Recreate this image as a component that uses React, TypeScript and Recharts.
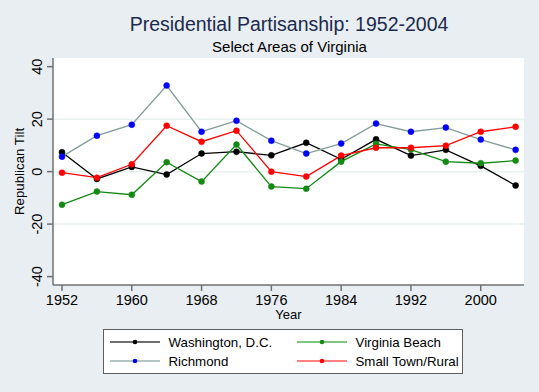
import { LineChart, Line, XAxis, YAxis, CartesianGrid, ReferenceLine } from 'recharts'

const BG = '#e8eef1'
const NAVY = '#1b2a4c'
const AXIS = '#707070'

const years = [1952, 1956, 1960, 1964, 1968, 1972, 1976, 1980, 1984, 1988, 1992, 1996, 2000, 2004]
const washington = [7.4, -2.8, 1.8, -1.1, 6.9, 7.6, 6.2, 11.0, 4.7, 12.3, 6.1, 8.3, 2.2, -5.3]
const richmond = [5.7, 13.7, 17.9, 32.8, 15.2, 19.4, 11.8, 6.9, 10.7, 18.3, 15.2, 16.8, 12.2, 8.3]
const virginiaBeach = [-12.6, -7.6, -8.8, 3.6, -3.8, 10.3, -5.7, -6.5, 3.8, 10.6, 8.4, 3.8, 3.2, 4.2]
const smallTown = [-0.4, -2.3, 2.8, 17.5, 11.4, 15.6, 0, -1.9, 6.1, 9.1, 9.1, 9.9, 15.2, 17.1]

const xTicks = [1952, 1960, 1968, 1976, 1984, 1992, 2000]
const yTicks = [-40, -20, 0, 20, 40]
const gridValues = [-20, 0, 20]

const series = [
  { key: 'dc', name: 'Washington, D.C.', values: washington, line: '#000000', dot: '#000000', legendLine: '#6f6f6f' },
  { key: 'rich', name: 'Richmond', values: richmond, line: '#7f9d99', dot: '#0000ff', legendLine: '#b4c6c3' },
  { key: 'vb', name: 'Virginia Beach', values: virginiaBeach, line: '#138a13', dot: '#138a13', legendLine: '#7fc47f' },
  { key: 'st', name: 'Small Town/Rural', values: smallTown, line: '#ff0000', dot: '#ff0000', legendLine: '#ff8080' },
]

const data = years.map((year, i) => {
  const row: Record<string, number> = { year }
  series.forEach((s) => { row[s.key] = s.values[i] })
  return row
})

const FONT = '"Liberation Sans", Arial, Helvetica, sans-serif'

function YTick({ x, y, payload }: any) {
  return (
    <text
      x={x - 3}
      y={y}
      transform={`rotate(-90, ${x - 3}, ${y})`}
      textAnchor="middle"
      fontSize={14.5}
      fill="#000"
      fontFamily={FONT}
    >
      {payload.value}
    </text>
  )
}

// legend reads across: DC, Virginia Beach / Richmond, Small Town
const legendOrder = ['dc', 'vb', 'rich', 'st']

export default function App() {
  return (
    <div style={{ position: 'fixed', left: 0, top: 0, width: 539, height: 392, background: BG, fontFamily: FONT }}>
      <svg width={539} height={60} style={{ position: 'absolute', left: 0, top: 0 }}>
        <text x={289} y={30.7} textAnchor="middle" fontSize={19.5} fill={NAVY} fontFamily={FONT}>
          Presidential Partisanship: 1952-2004
        </text>
        <text x={289.5} y={51.7} textAnchor="middle" fontSize={15} fill="#000" fontFamily={FONT}>
          Select Areas of Virginia
        </text>
      </svg>

      <LineChart
        width={539}
        height={392}
        data={data}
        margin={{ top: 58, right: 15, bottom: 77, left: 13 }}
        style={{ position: 'absolute', left: 0, top: 0 }}
      >
        <CartesianGrid fill="#ffffff" stroke="none" horizontal={false} vertical={false} />
        {gridValues.map((v) => (
          <ReferenceLine key={v} y={v} stroke="#e9f0f0" strokeWidth={1.5} />
        ))}
        <XAxis
          dataKey="year"
          type="number"
          domain={[1950.97, 2004.96]}
          allowDataOverflow
          ticks={xTicks}
          height={30}
          tickSize={6}
          tickMargin={4}
          stroke={AXIS}
          strokeWidth={1.5}
          tick={{ fontSize: 14.5, fill: '#000', fontFamily: FONT }}
          label={{
            content: ({ viewBox }: any) => (
              <text
                x={viewBox.x + viewBox.width / 2}
                y={319}
                textAnchor="middle"
                fontSize={13}
                fill="#000"
                fontFamily={FONT}
              >
                Year
              </text>
            ),
          }}
        />
        <YAxis
          type="number"
          domain={[-43.2, 43.3]}
          allowDataOverflow
          ticks={yTicks}
          width={40}
          tickSize={6}
          tickMargin={2}
          stroke={AXIS}
          strokeWidth={1.5}
          tick={<YTick />}
          label={{
            content: ({ viewBox }: any) => {
              const cy = viewBox.y + viewBox.height / 2
              return (
                <text
                  x={24}
                  y={cy}
                  transform={`rotate(-90, 24, ${cy})`}
                  textAnchor="middle"
                  fontSize={13.3}
                  fill="#000"
                  fontFamily={FONT}
                >
                  Republican Tilt
                </text>
              )
            },
          }}
        />
        {series.map((s) => (
          <Line
            key={s.key}
            dataKey={s.key}
            name={s.name}
            type="linear"
            stroke={s.line}
            strokeWidth={1.3}
            dot={{ r: 3, fill: s.dot, stroke: s.dot, strokeWidth: 0.5 }}
            activeDot={false}
            isAnimationActive={false}
          />
        ))}
      </LineChart>

      {/* legend box */}
      <div
        style={{
          position: 'absolute',
          left: 103,
          top: 329,
          width: 360,
          height: 45,
          background: '#fff',
          border: '1.5px solid #5e5e5e',
          display: 'grid',
          gridTemplateColumns: '187px 170px',
          gridTemplateRows: '19px 19px',
          paddingTop: 2.5,
          boxSizing: 'border-box',
          fontSize: 13.3,
          color: '#000',
        }}
      >
        {legendOrder.map((k) => {
          const s = series.find((x) => x.key === k)!
          return (
            <div key={k} style={{ display: 'flex', alignItems: 'center' }}>
              <svg width={59} height={10} style={{ marginLeft: 5.5, flex: 'none' }}>
                <line x1={0} x2={50} y1={5} y2={5} stroke={s.legendLine} strokeWidth={2} />
                <circle cx={25} cy={5} r={2.3} fill={s.dot} />
              </svg>
              <span>{s.name}</span>
            </div>
          )
        })}
      </div>
    </div>
  )
}
